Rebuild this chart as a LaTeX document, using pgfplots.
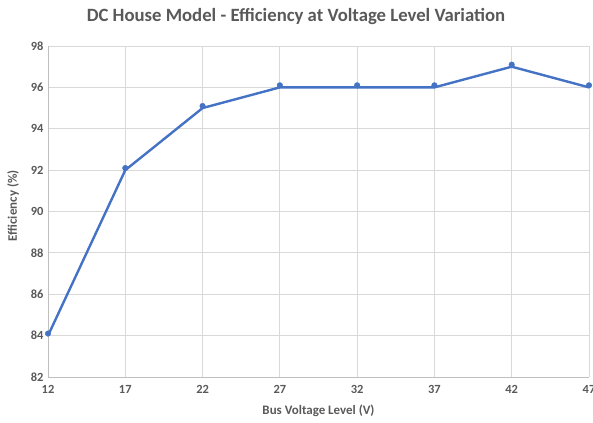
\documentclass[border=0pt]{standalone}
\usepackage{fontspec}
\setmainfont{Carlito}
\usepackage{pgfplots}
\pgfplotsset{compat=1.18}
\definecolor{txt}{HTML}{595959}
\definecolor{grd}{HTML}{D9D9D9}
\definecolor{axl}{HTML}{BFBFBF}
\definecolor{ser}{HTML}{4472C4}
\begin{document}
\begin{tikzpicture}
\path[use as bounding box] (-48bp,-46bp) rectangle (545bp,377bp);
\begin{axis}[
  at={(0,0)}, anchor=south west,
  scale only axis, width=541bp, height=331bp,
  xmin=12, xmax=47, ymin=82, ymax=98,
  xtick={12,17,...,47}, ytick={82,84,...,98},
  grid=major, grid style={grd, line width=0.9bp},
  axis x line*=bottom, axis y line*=left,
  axis line style={axl, line width=0.9bp},
  tick style={draw=none},
  ticklabel style={font=\bfseries\fontsize{12.5}{15}\selectfont, text=txt},
  /pgf/number format/assume math mode=true,
  xticklabel style={yshift=-5bp},
  yticklabel style={xshift=-1bp},
  xlabel={Bus Voltage Level (V)}, ylabel={Efficiency (\%)},
  label style={font=\bfseries\fontsize{13}{15}\selectfont, text=txt},
  xlabel style={at={(axis description cs:0.5,-0.1027)}, anchor=center},
  ylabel style={at={(axis description cs:-0.0647,0.517)}, anchor=center},
  clip=false,
]
\addplot[ser, line width=2.4bp, no marks] coordinates {
(12,84) (17,92) (22,95) (27,96) (32,96) (37,96) (42,97) (47,96)};
\addplot[only marks, mark=*, mark size=2.8bp, ser, mark options={fill=ser, draw=ser}] coordinates {
(12,84.1) (17,92.1) (22,95.1) (27,96.1) (32,96.1) (37,96.1) (42,97.1) (47,96.1)};
\end{axis}
\node[font=\bfseries\fontsize{18.8}{22}\selectfont, text=txt] at (248bp,360bp) {DC House Model - Efficiency at Voltage Level Variation};
\end{tikzpicture}
\end{document}
